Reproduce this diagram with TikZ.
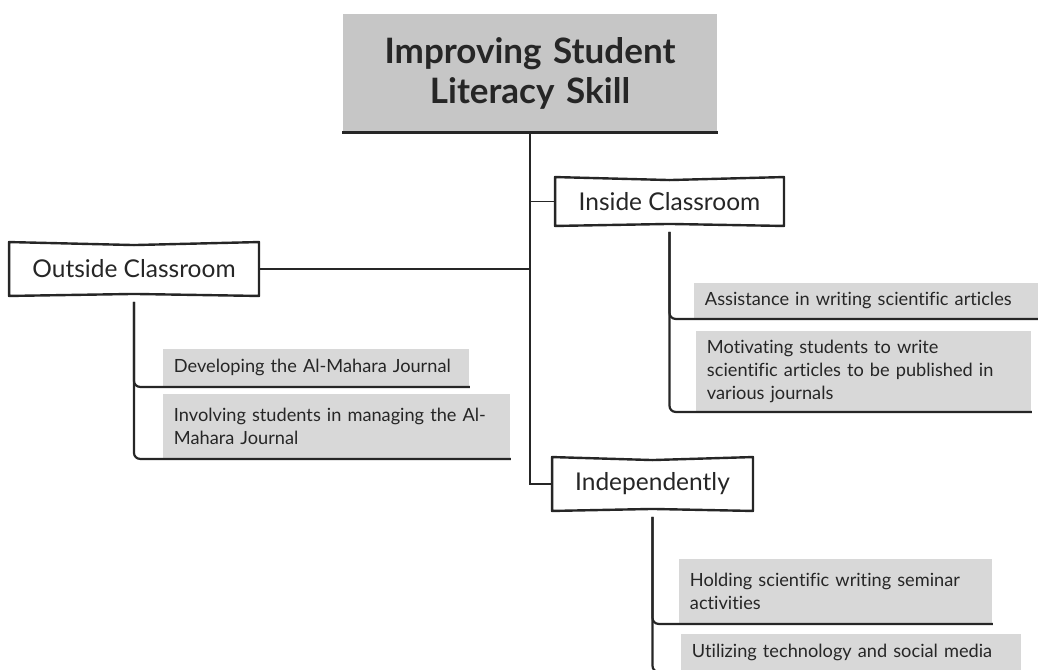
\documentclass[tikz,border=0pt]{standalone}
\usepackage{fontspec}
\setmainfont{Lato}[Ligatures=NoCommon]
\usetikzlibrary{positioning}
\definecolor{titlegray}{HTML}{C6C6C6}
\definecolor{leafgray}{HTML}{D8D8D8}
\definecolor{ink}{HTML}{262626}
\def\leafsep{11pt}

\begin{document}
\begin{tikzpicture}[x=1pt,y=-1pt,line width=1.9pt,draw=ink,text=ink]
		\useasboundingbox (0,0) rectangle (1038,669);
		\tikzstyle{title}=[fill=titlegray,text width=374pt,align=center,minimum height=117pt,inner sep=0pt,font=\fontsize{35}{40}\selectfont\bfseries]
		\tikzstyle{topic}=[fill=white,inner sep=0pt,font=\fontsize{24.5}{28}\selectfont]
		\tikzstyle{leaf}=[fill=leafgray,anchor=north west,align=left,inner xsep=\leafsep,inner ysep=0pt,font=\fontsize{18.2}{23}\selectfont]
		\tikzstyle{link}=[rounded corners=6pt,shorten <=6pt,line width=2.2pt]
		\tikzstyle{bar}=[line width=3.5pt]

		% root
		\node[title] (root) at (530,73) {Improving Student\\Literacy Skill};
		\draw[bar] (root.south west) -- (root.south east);

		% three topics
		\node[topic,minimum width=248pt,minimum height=52pt] (oc) at (134,269) {Outside Classroom};
		\node[topic,minimum width=227pt,minimum height=47pt] (ic) at (669.5,201.5) {Inside Classroom};
		\node[topic,minimum width=199pt,minimum height=52pt] (ind) at (652.5,484) {Independently};
		\foreach \t in {oc,ic,ind}
			\draw[line width=2.4pt,line join=round] (\t.north west) -- ([yshift=-3pt]\t.north)
				-- (\t.north east) -- (\t.south east) -- ([yshift=2pt]\t.south)
				-- (\t.south west) -- cycle;

		\draw (root.south) |- (ic.west);
		\draw (root.south) |- (oc.east);
		\draw (root.south) |- (ind.west);

		% outside classroom
		\node[leaf,text width=306pt-2*\leafsep,minimum height=37pt] (oc-1) at (162,348)
			{Developing the Al-Mahara Journal};
		\node[leaf,text width=347pt-2*\leafsep,minimum height=64pt] (oc-2) at (162,393)
			{Involving students in managing the Al-\\Mahara Journal};

		% inside classroom
		\node[leaf,text width=350pt-2*\leafsep,minimum height=35pt] (ic-1) at (693,282)
			{Assistance in writing scientific articles};
		\node[leaf,text width=335pt-2*\leafsep,minimum height=80pt] (ic-2) at (695,330)
			{Motivating students to write\\scientific articles to be published in\\various journals};

		% independently
		\node[leaf,text width=313pt-2*\leafsep,minimum height=64pt] (ind-1) at (678,558)
			{Holding scientific writing seminar\\activities};
		\node[leaf,text width=340pt-2*\leafsep,minimum height=37pt] (ind-2) at (680,633)
			{Utilizing technology and social media};

		\foreach \t / \n in {oc/1,oc/2,ic/1,ic/2,ind/1,ind/2}
			\draw[link] (\t.south) |- (\t-\n.south east);
\end{tikzpicture}
\end{document}
